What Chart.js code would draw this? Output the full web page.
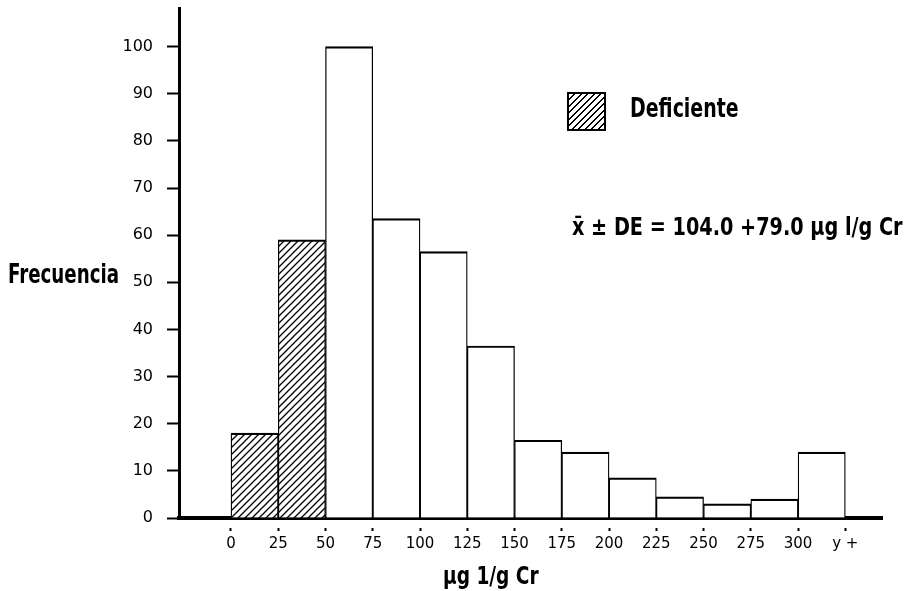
<!DOCTYPE html>
<html><head><meta charset="utf-8">
<script src="https://cdn.jsdelivr.net/npm/chart.js@4.4.1/dist/chart.umd.min.js"></script>
<style>
html,body{margin:0;padding:0;background:#fff;}
#wrap{position:relative;width:916px;height:591px;overflow:hidden;}
#c{position:absolute;left:0;top:0;}
.lbl{position:absolute;font-family:"DejaVu Sans Condensed","Liberation Sans Narrow",sans-serif;font-weight:bold;color:#000;white-space:nowrap;line-height:1;transform-origin:0 0;transform:scaleX(0.78);}
#swatch{position:absolute;left:567px;top:92px;width:35px;height:35px;border:2px solid #000;
 background:repeating-linear-gradient(135deg,#fff 0 3.2px,#000 3.2px 4.6px);}
</style></head><body>
<div id="wrap">
<canvas id="c" width="916" height="591"></canvas>
<div class="lbl" style="left:8px;top:261px;font-size:26px;">Frecuencia</div>
<div id="swatch"></div>
<div class="lbl" style="left:630px;top:94px;font-size:27px;">Deficiente</div>
<div class="lbl" style="left:572px;top:214px;font-size:25px;transform:scaleX(0.855);">x̄ ± DE = 104.0 +79.0 µg l/g Cr</div>
<div class="lbl" style="left:443px;top:564px;font-size:24px;transform:scaleX(0.86);">µg 1/g Cr</div>
</div>
<script>
// ---- data ----
const binStarts   = [0, 25, 50, 75, 100, 125, 150, 175, 200, 225, 250, 275, 300];
const frequencies = [18, 59, 100, 63.5, 56.5, 36.5, 16.5, 14, 8.5, 4.5, 3, 4, 14];
const deficientCount = 2;          // first bins = "Deficiente"
const binWidth = 25;
const xTickValues = [0, 25, 50, 75, 100, 125, 150, 175, 200, 225, 250, 275, 300, 325];
const xTickLabels = ['0','25','50','75','100','125','150','175','200','225','250','275','300','y +'];
const yTickValues = [0, 10, 20, 30, 40, 50, 60, 70, 80, 90, 100];

function hatchPattern(){
  const s = 7, c = document.createElement('canvas');
  c.width = c.height = s;
  const g = c.getContext('2d');
  g.fillStyle = '#fff'; g.fillRect(0,0,s,s);
  g.strokeStyle = '#000'; g.lineWidth = 1.3;
  g.beginPath();
  g.moveTo(-1, s+1); g.lineTo(s+1, -1);
  g.moveTo(-1, 1); g.lineTo(1, -1);
  g.moveTo(s-1, s+1); g.lineTo(s+1, s-1);
  g.stroke();
  return g.createPattern(c, 'repeat');
}
const hatch = hatchPattern();

const points = binStarts.map((b, i) => ({x: b + binWidth/2, y: frequencies[i]}));

new Chart(document.getElementById('c'), {
  type: 'bar',
  data: { datasets: [{
    data: points,
    backgroundColor: ctx => ctx.dataIndex < deficientCount ? hatch : '#fff',
    borderColor: '#000',
    borderWidth: { top: 2.2, left: 1.3, right: 1.3, bottom: 0 },
    borderSkipped: false,
    barPercentage: 1,
    categoryPercentage: 1
  }]},
  options: {
    responsive: false,
    devicePixelRatio: 1,
    animation: false,
    layout: { padding: { top: 8, right: 34, left: 0, bottom: 0 } },
    plugins: { legend: { display: false }, tooltip: { enabled: false } },
    scales: {
      x: {
        type: 'linear', min: -27.5, max: 344.4, offset: false,
        afterFit: s => { s.height = 73; s.paddingLeft = 0; s.paddingRight = 0; },
        afterBuildTicks: s => { s.ticks = xTickValues.map(v => ({value: v})); },
        ticks: {
          autoSkip: false, maxRotation: 0, padding: 4, color: '#000',
          font: { family: '"DejaVu Sans", sans-serif', size: 15 },
          callback: (v) => { const i = xTickValues.indexOf(v); return i >= 0 ? xTickLabels[i] : ''; }
        },
        grid: { drawOnChartArea: false, offset: false, drawTicks: true, tickLength: 13, tickColor: '#000', tickWidth: 2, tickBorderDash: [0, 8, 5, 100] },
        border: { display: true, color: '#000', width: 4 }
      },
      y: {
        type: 'linear', min: 0, max: 108.2,
        afterFit: s => { s.width = 179; s.paddingTop = 0; s.paddingBottom = 0; },
        afterBuildTicks: s => { s.ticks = yTickValues.map(v => ({value: v})); },
        ticks: { padding: 14, color: '#000', font: { family: '"DejaVu Sans", sans-serif', size: 16 } },
        grid: { drawOnChartArea: false, drawTicks: true, tickLength: 12, tickColor: '#000', tickWidth: 2 },
        border: { display: true, color: '#000', width: 3 }
      }
    }
  }
});
</script>
</body></html>
